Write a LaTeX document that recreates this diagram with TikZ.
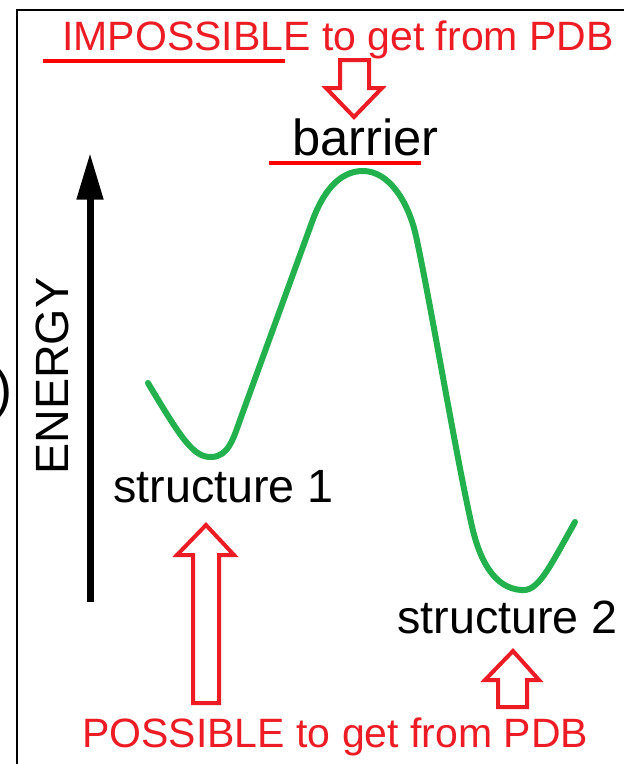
\documentclass[tikz,border=0pt]{standalone}
\usepackage{fontspec}
\setmainfont{Liberation Sans}
\usetikzlibrary{arrows.meta}
\definecolor{pred}{RGB}{237,28,36}
\definecolor{lred}{RGB}{255,0,0}
\definecolor{pgreen}{RGB}{34,177,76}
\tikzset{
  redtxt/.style={text=pred, inner sep=0pt, font=\fontsize{30.75}{36}\selectfont},
  blacktxt/.style={text=black, inner sep=0pt, font=\fontsize{35}{40}\selectfont},
  uline/.style={draw=lred, line width=2.5pt},
  hollowarrow/.style={draw=pred, line width=3pt, line join=miter, fill=white},
  curve/.style={draw=pgreen, line width=4.5pt, line cap=round, line join=round}
}
\begin{document}
\begin{tikzpicture}[x=0.75pt,y=-0.75pt]
\useasboundingbox (0,0) rectangle (624,764);
\fill[white] (0,0) rectangle (624,764);
% frame
\draw[line width=1.5pt] (17,764) -- (17,10) -- (624,10);
% parenthesis
\node[inner sep=0pt, anchor=base east, font=\fontsize{40.5}{44}\selectfont] (paren) at (12.5,407) {)};
% texts
\node[redtxt, anchor=base west] (imp) at (62,50) {IMPOSSIBLE to get from PDB};
\node[redtxt, anchor=base west] (pos) at (82,747) {POSSIBLE to get from PDB};
\node[blacktxt, anchor=base west, font=\fontsize{38}{44}\selectfont] (bar) at (292,155) {barrier};
\node[blacktxt, anchor=base west] (s1) at (113,502) {structure 1};
\node[blacktxt, anchor=base west] (s2) at (397,633) {structure 2};
\node[blacktxt, anchor=base west, rotate=90] (en) at (68,475) {ENERGY};
% underlines
\coordinate (u1a) at (43,61); \coordinate (u1b) at (285,61);
\coordinate (u2a) at (269,163); \coordinate (u2b) at (421,163);
\draw[uline] (u1a) -- (u1b);
\draw[uline] (u2a) -- (u2b);
% energy axis
\coordinate (eb) at (90,602); \coordinate (et) at (90,153);
\draw[line width=5.25pt, -{Triangle[length=35pt, width=19pt]}] (eb) -- (et);
% hollow arrows
\draw[hollowarrow] (340,60) -- (369,60) -- (369,88) -- (382,88) -- (354,117) -- (326,88) -- (340,88) -- cycle;
\draw[hollowarrow] (193,703) -- (219,703) -- (219,555) -- (234,555) -- (206,525) -- (177,555) -- (193,555) -- cycle;
\draw[hollowarrow] (498,707) -- (527,707) -- (527,680) -- (539,680) -- (513,651) -- (485,680) -- (498,680) -- cycle;
% energy curve
\coordinate (c0) at (148,383);
\coordinate (cmin1) at (212,457);
\coordinate (cpk) at (363,171);
\coordinate (cmin2) at (521,590);
\coordinate (c9) at (575,522);
\draw[curve] (c0) .. controls (182,440) and (194,458) .. (cmin1)
  .. controls (228,456) and (233,440) .. (240,420)
  -- (312,222)
  .. controls (322,194) and (338,171) .. (cpk)
  .. controls (388,171) and (408,200) .. (416,236)
  .. controls (430,300) and (455,450) .. (471,522)
  .. controls (479,560) and (494,588) .. (cmin2)
  .. controls (538,592) and (548,570) .. (c9);
\end{tikzpicture}
\end{document}
